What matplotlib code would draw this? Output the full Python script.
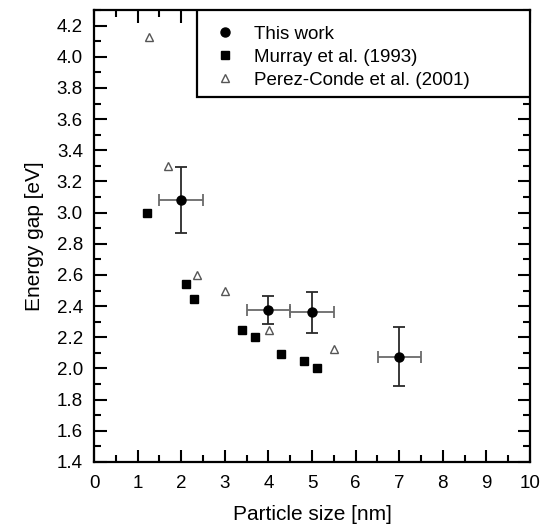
import matplotlib
matplotlib.use("Agg")
import matplotlib.pyplot as plt
from matplotlib.patches import Rectangle
from matplotlib.ticker import MultipleLocator

plt.rcParams['font.family'] = ['Liberation Sans', 'DejaVu Sans']

# this work, with error bars
size_this = [2.0, 4.0, 5.0, 7.0]
gap_this = [3.08, 2.375, 2.36, 2.075]
size_err = [0.5, 0.5, 0.5, 0.49]
gap_err_low = [0.21, 0.09, 0.13, 0.19]
gap_err_high = [0.21, 0.09, 0.13, 0.19]

# Murray et al. (1993)
size_murray = [1.21, 2.1, 2.3, 3.39, 3.7, 4.3, 4.81, 5.11]
gap_murray = [3.0, 2.545, 2.445, 2.245, 2.2, 2.095, 2.045, 2.0]

# Perez-Conde et al. (2001)
size_perez = [1.26, 1.69, 2.36, 3.0, 4.02, 5.5]
gap_perez = [4.125, 3.3, 2.6, 2.5, 2.248, 2.127]

labels = ['This work', 'Murray et al. (1993)', 'Perez-Conde et al. (2001)']

fig = plt.figure(figsize=(5.54, 5.26), dpi=100)
ax = fig.add_axes([94 / 554, 64 / 526, 436 / 554, 452 / 526])

ax.errorbar(size_this, gap_this, xerr=size_err, fmt='none', ecolor='#6a6a6a',
            elinewidth=1.3, capsize=4, capthick=1.3, zorder=2)
ax.errorbar(size_this, gap_this, yerr=[gap_err_low, gap_err_high], fmt='none',
            ecolor='#2a2a2a', elinewidth=1.3, capsize=4, capthick=1.3, zorder=2)
h1, = ax.plot(size_this, gap_this, 'o', color='black', ms=6.5, ls='none', zorder=3)
h2, = ax.plot(size_murray, gap_murray, 's', color='black', ms=5.5, ls='none', zorder=3)
h3, = ax.plot(size_perez, gap_perez, '^', mfc='white', mec='#555555', mew=1.0,
              ms=6, ls='none', zorder=3)

ax.set_xlim(0, 10)
ax.set_ylim(1.4, 4.3)
ax.xaxis.set_major_locator(MultipleLocator(1))
ax.xaxis.set_minor_locator(MultipleLocator(0.5))
ax.yaxis.set_minor_locator(MultipleLocator(0.1))
ax.set_yticks([1.4 + 0.2 * i for i in range(15)])
ax.tick_params(which='both', direction='in', top=True, right=True, labelsize=13.5,
               width=1.5, colors='black')
ax.tick_params(which='major', length=9)
ax.tick_params(which='minor', length=5)
ax.tick_params(axis='x', pad=9)
ax.tick_params(axis='y', pad=8)
for sp in ax.spines.values():
    sp.set_linewidth(1.6)

ax.set_xlabel('Particle size [nm]', fontsize=15, labelpad=10)
ax.set_ylabel('Energy gap [eV]', fontsize=15, labelpad=9)

# legend box in the upper right corner
box = Rectangle((0.236, 0.807), 0.764, 0.193, transform=ax.transAxes,
                facecolor='white', edgecolor='black', lw=1.6, zorder=5)
ax.add_patch(box)
leg = ax.legend([h1, h2, h3], labels, loc='upper left', bbox_to_anchor=(0.262, 0.982),
                frameon=False, fontsize=13.5, handlelength=1.0, handletextpad=1.05,
                labelspacing=0.32, borderaxespad=0)
leg.set_zorder(6)

fig.savefig('out.png', dpi=100)
